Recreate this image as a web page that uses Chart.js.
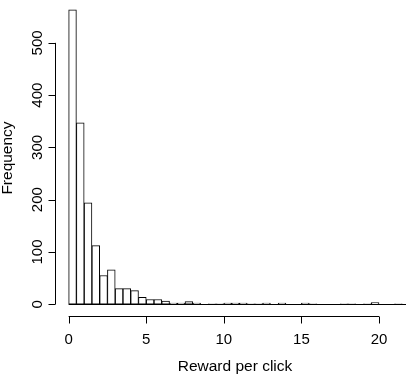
<!DOCTYPE html>
<html>

<head>
   <meta charset="UTF-8">
   <title>Reward per click</title>
   <script src="https://cdn.jsdelivr.net/npm/chart.js@4"></script>
   <style>
      html, body { margin: 0; padding: 0; background: #fff; }
      #chartContainer { width: 406px; height: 376px; }
   </style>
</head>

<body>
   <div id="chartContainer"><canvas id="chart"></canvas></div>

   <script>
      // histogram bins, width 0.5, starting at 0
      const binWidth = 0.5;
      const counts = [
         563, 347, 194, 112, 55, 66, 30, 30, 26, 13,
         9, 9, 6, 2, 2, 5, 2, 0, 1, 1,
         2, 2, 2, 1, 1, 2, 0, 2, 0, 0,
         2, 1, 0, 0, 0, 1, 1, 0, 1, 3,
         0, 0, 1, 0
      ];
      const xTicks = [0, 5, 10, 15, 20];
      const yTicks = [0, 100, 200, 300, 400, 500];
      const xTitle = "Reward per click";
      const yTitle = "Frequency";

      const binCenters = counts.map((c, i) => i * binWidth + binWidth / 2);
      const points = counts.map((c, i) => ({ x: binCenters[i], y: c }));

      const tickFont = "15px 'Liberation Sans', Arial, sans-serif";
      const titleFont = "15.5px 'Liberation Sans', Arial, sans-serif";

      // R style axes, drawn off the plot region edge
      const rAxes = {
         id: "rAxes",
         afterDatasetsDraw(chart) {
            const { ctx, chartArea, scales } = chart;
            const xs = scales.x, ys = scales.y;
            const tick = 7;
            ctx.save();
            ctx.strokeStyle = "#000";
            ctx.fillStyle = "#000";
            ctx.lineWidth = 1;

            // zero height bins show as a line at the baseline
            const y0 = Math.round(ys.getPixelForValue(0)) + 0.5;
            ctx.beginPath();
            ctx.moveTo(xs.getPixelForValue(0), y0);
            ctx.lineTo(xs.getPixelForValue(counts.length * binWidth), y0);
            ctx.stroke();

            // x axis
            const xb = Math.round(chartArea.bottom) + 0.5;
            ctx.beginPath();
            ctx.moveTo(xs.getPixelForValue(xTicks[0]), xb);
            ctx.lineTo(xs.getPixelForValue(xTicks[xTicks.length - 1]), xb);
            for (const t of xTicks) {
               const px = Math.round(xs.getPixelForValue(t)) + 0.5;
               ctx.moveTo(px, xb);
               ctx.lineTo(px, xb + tick);
            }
            ctx.stroke();
            ctx.font = tickFont;
            ctx.textAlign = "center";
            ctx.textBaseline = "alphabetic";
            for (const t of xTicks) {
               ctx.fillText(String(t), xs.getPixelForValue(t), xb + 27);
            }
            // title sits in the middle of the full (cropped) plot region
            ctx.font = titleFont;
            ctx.fillText(xTitle, 235, 371);

            // y axis
            const yl = Math.round(chartArea.left) + 0.5;
            ctx.beginPath();
            ctx.moveTo(yl, ys.getPixelForValue(yTicks[0]));
            ctx.lineTo(yl, ys.getPixelForValue(yTicks[yTicks.length - 1]));
            for (const t of yTicks) {
               const py = Math.round(ys.getPixelForValue(t)) + 0.5;
               ctx.moveTo(yl, py);
               ctx.lineTo(yl - tick, py);
            }
            ctx.stroke();
            ctx.font = tickFont;
            for (const t of yTicks) {
               ctx.save();
               ctx.translate(42, ys.getPixelForValue(t));
               ctx.rotate(-Math.PI / 2);
               ctx.fillText(String(t), 0, 0);
               ctx.restore();
            }
            ctx.save();
            ctx.font = titleFont;
            ctx.translate(12, 158);
            ctx.rotate(-Math.PI / 2);
            ctx.fillText(yTitle, 0, 0);
            ctx.restore();

            ctx.restore();
         }
      };

      new Chart(document.getElementById("chart"), {
         type: "bar",
         data: {
            datasets: [{
               data: points,
               backgroundColor: "#fff",
               borderColor: "#000",
               borderWidth: 1,
               borderSkipped: false,
               barPercentage: 1,
               categoryPercentage: 1
            }]
         },
         options: {
            responsive: true,
            maintainAspectRatio: false,
            animation: false,
            layout: { padding: { left: 55, right: 0, top: 0, bottom: 60 } },
            plugins: { legend: { display: false }, tooltip: { enabled: false } },
            scales: {
               x: { type: "linear", offset: false, min: -0.88, max: 21.74, display: false },
               y: { min: -22.5, max: 582, display: false }
            }
         },
         plugins: [rAxes]
      });
   </script>
</body>

</html>
